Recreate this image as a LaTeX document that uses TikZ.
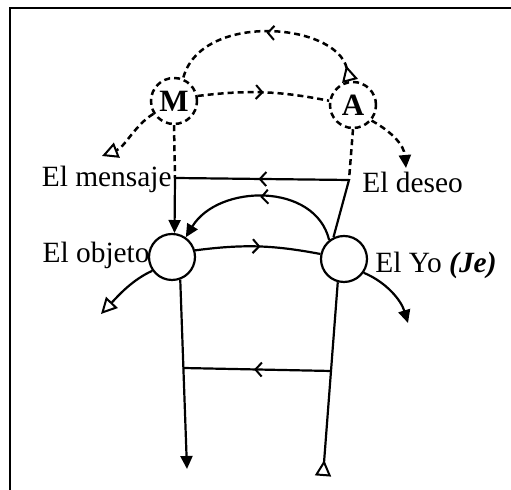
\documentclass[tikz,border=0pt]{standalone}
\usepackage{fontspec}
\setmainfont{Liberation Serif}
\usetikzlibrary{arrows.meta,decorations.markings}
\begin{document}
\begin{tikzpicture}[x=0.5pt,y=-0.5pt,
  ln/.style={line width=1.1pt,black},
  dsh/.style={ln,line width=1.25pt,dash pattern=on 3pt off 2pt},
  circ/.style={circle,draw,line width=1.1pt,minimum size=23pt,inner sep=0pt},
  dcirc/.style={circ,line width=1.25pt,dash pattern=on 3pt off 2pt,font=\fontsize{15.5}{16}\selectfont\bfseries},
  lbl/.style={inner sep=0pt,font=\fontsize{14.7}{16}\selectfont},
  fill tip/.style={-{Triangle[length=6.5pt,width=6pt]}},
  opentri/.style={Triangle[open,length=8pt,width=8pt,line width=1pt]},
  open tip/.style={-{Triangle[open,length=8pt,width=8pt,line width=1pt]}},
  midarrow/.style={postaction={decorate,decoration={markings,
     mark=at position #1 with {\arrow[line width=1pt]{Straight Barb[length=3.2pt,width=7pt]}}}}},
]
\useasboundingbox (0,0) rectangle (511,490);
% frame
\draw[line width=1.3pt] (10,490) -- (10,8) -- (511,8);

% nodes
\node[dcirc] (M) at (174,101) {M};
\node[dcirc] (A) at (353,105) {A};
\node[circ] (O) at (172,257) {};
\node[circ] (Y) at (344,259) {};

\node[lbl,anchor=base east] (lm) at (172,187) {El mensaje};
\node[lbl,anchor=base west] (ld) at (362,193) {El deseo};
\node[lbl,anchor=base east] (lo) at (150,263) {El objeto};
\node[lbl,anchor=base west] (ly) at (375,273) {El Yo \textbf{\textit{(Je)}}};

% coordinates
\coordinate (J1) at (175,178);
\coordinate (J2) at (349,180);
\coordinate (mleft) at (102,156);
\coordinate (aright) at (406,168);
\coordinate (oleft) at (101,314);
\coordinate (yright) at (408,323);
\coordinate (obottom) at (187,469);
\coordinate (ybottom) at (323,476);
\coordinate (L1) at (183,368);
\coordinate (L2) at (331,371);

% dashed upper part
\draw[dsh,{Triangle[open,reversed,length=8pt,width=8pt,line width=1pt]}-,midarrow=0.5]
  (A.97) .. controls (335,22) and (200,12) .. (M.68);
\draw[dsh,midarrow=0.5] (M.12) to[bend left=9] (A.170);
\draw[dsh,open tip] (M.212) .. controls (135,125) and (125,147) .. (mleft);
\draw[dsh,fill tip] (A.-40) .. controls (392,132) and (404,145) .. (aright);
\draw[dsh] (M.south) -- (J1);
\draw[dsh] (A.south) -- (J2);

% solid part
\draw[ln,midarrow=0.52] (J2) -- (J1);
\draw[ln,fill tip] (J1) -- (O.84);
\draw[ln] (J2) -- (Y.116);
\draw[ln,fill tip,midarrow=0.5] (Y.128) .. controls (315,182) and (218,184) .. (O.55);
\draw[ln,midarrow=0.52] (O.16) to[bend left=9] (Y.168);
\draw[ln,open tip] (O.215) .. controls (132,280) and (118,296) .. (oleft);
\draw[ln,fill tip] (Y.-35) .. controls (386,282) and (401,300) .. (yright);
\draw[ln,fill tip] (O.-70) -- (obottom);
\draw[ln,-{Triangle[open,reversed,length=8pt,width=8pt,line width=1pt]}] (Y.-105) -- (ybottom);
\draw[ln,midarrow=0.52] (L2) -- (L1);
\end{tikzpicture}
\end{document}
